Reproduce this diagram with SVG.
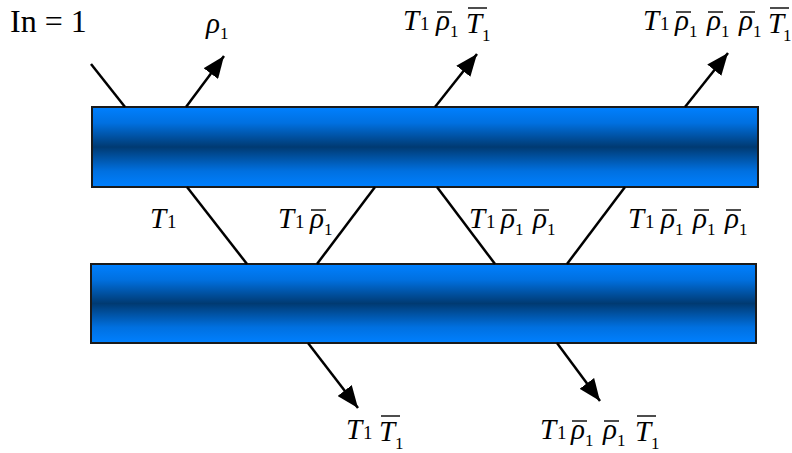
<svg xmlns="http://www.w3.org/2000/svg" width="792" height="453" viewBox="0 0 792 453">
<style>
text{font-family:"Liberation Serif","Times New Roman",serif;fill:#000}
.i{font-style:italic;font-size:29px}
.n{font-style:normal;font-size:19px}
.m{font-style:normal;font-size:17px}
.bar{stroke:#000;stroke-width:1.4}
.slab{fill:url(#g);stroke:#1a1a1a;stroke-width:2}
.ray{stroke:#000;stroke-width:2.5;fill:none}
.arr{marker-end:url(#ah)}
</style>
<defs>
<linearGradient id="g" x1="0" y1="0" x2="0" y2="1">
<stop offset="0" stop-color="#0080ff"/>
<stop offset="0.2" stop-color="#0070e0"/>
<stop offset="0.5" stop-color="#003a72"/>
<stop offset="0.8" stop-color="#0070e0"/>
<stop offset="1" stop-color="#0080ff"/>
</linearGradient>
<marker id="ah" markerUnits="userSpaceOnUse" markerWidth="22" markerHeight="18" refX="22" refY="9" orient="auto" viewBox="0 0 22 18">
<path d="M0,0 L22,9 L0,18 z" fill="#000"/>
</marker>
</defs>

<g id="slab-top"><rect class="slab" x="92" y="107" width="666" height="80"/></g>
<g id="slab-bottom"><rect class="slab" x="91" y="264" width="665" height="79"/></g>

<g id="connectors">
<line class="ray" x1="91" y1="64" x2="125" y2="107"/>
<line class="ray arr" x1="186" y1="107" x2="224" y2="56"/>
<line class="ray arr" x1="435" y1="107" x2="477" y2="54"/>
<line class="ray arr" x1="685" y1="107" x2="728" y2="53"/>
<line class="ray" x1="187" y1="187" x2="247" y2="264"/>
<line class="ray" x1="375" y1="187" x2="317" y2="264"/>
<line class="ray" x1="437" y1="187" x2="495" y2="264"/>
<line class="ray" x1="625" y1="187" x2="567" y2="264"/>
<line class="ray arr" x1="308" y1="343" x2="358" y2="408"/>
<line class="ray arr" x1="557" y1="343" x2="600" y2="401"/>
</g>

<g id="label-in"><text x="10" y="32" style="font-size:32px">In = 1</text></g>

<g id="label-rho"><text><tspan class="i" x="206" y="33">ρ</tspan><tspan class="m" x="220" y="39">1</tspan></text></g>

<g id="label-top2">
<text><tspan class="i" x="403" y="30">T</tspan><tspan class="n" x="420" y="30">1</tspan><tspan class="i" x="436" y="30">ρ</tspan><tspan class="m" x="450" y="37">1</tspan><tspan class="i" x="466" y="33">T</tspan><tspan class="m" x="482" y="41">1</tspan></text>
<line class="bar" x1="437" y1="12" x2="452" y2="12"/>
<line class="bar" x1="468" y1="8" x2="487" y2="8"/>
</g>

<g id="label-top3">
<text><tspan class="i" x="643" y="30">T</tspan><tspan class="n" x="660" y="30">1</tspan><tspan class="i" x="675" y="30">ρ</tspan><tspan class="m" x="689" y="37">1</tspan><tspan class="i" x="707" y="30">ρ</tspan><tspan class="m" x="721" y="37">1</tspan><tspan class="i" x="739" y="30">ρ</tspan><tspan class="m" x="753" y="37">1</tspan><tspan class="i" x="768" y="33">T</tspan><tspan class="m" x="783" y="41">1</tspan></text>
<line class="bar" x1="676" y1="12" x2="691" y2="12"/>
<line class="bar" x1="708" y1="12" x2="723" y2="12"/>
<line class="bar" x1="740" y1="12" x2="755" y2="12"/>
<line class="bar" x1="770" y1="8" x2="789" y2="8"/>
</g>

<g id="label-gap1"><text><tspan class="i" x="150" y="228">T</tspan><tspan class="n" x="167" y="228">1</tspan></text></g>

<g id="label-gap2">
<text><tspan class="i" x="278" y="228">T</tspan><tspan class="n" x="295" y="228">1</tspan><tspan class="i" x="310" y="228">ρ</tspan><tspan class="m" x="324" y="235">1</tspan></text>
<line class="bar" x1="311" y1="210" x2="326" y2="210"/>
</g>

<g id="label-gap3">
<text><tspan class="i" x="469" y="228">T</tspan><tspan class="n" x="486" y="228">1</tspan><tspan class="i" x="501" y="228">ρ</tspan><tspan class="m" x="515" y="235">1</tspan><tspan class="i" x="533" y="228">ρ</tspan><tspan class="m" x="547" y="235">1</tspan></text>
<line class="bar" x1="502" y1="210" x2="517" y2="210"/>
<line class="bar" x1="534" y1="210" x2="549" y2="210"/>
</g>

<g id="label-gap4">
<text><tspan class="i" x="628" y="228">T</tspan><tspan class="n" x="645" y="228">1</tspan><tspan class="i" x="661" y="228">ρ</tspan><tspan class="m" x="675" y="235">1</tspan><tspan class="i" x="693" y="228">ρ</tspan><tspan class="m" x="707" y="235">1</tspan><tspan class="i" x="725" y="228">ρ</tspan><tspan class="m" x="739" y="235">1</tspan></text>
<line class="bar" x1="662" y1="210" x2="677" y2="210"/>
<line class="bar" x1="694" y1="210" x2="709" y2="210"/>
<line class="bar" x1="726" y1="210" x2="741" y2="210"/>
</g>

<g id="label-bot1">
<text><tspan class="i" x="346" y="439">T</tspan><tspan class="n" x="363" y="439">1</tspan><tspan class="i" x="379" y="441">T</tspan><tspan class="m" x="395" y="449">1</tspan></text>
<line class="bar" x1="381" y1="416" x2="400" y2="416"/>
</g>

<g id="label-bot2">
<text><tspan class="i" x="540" y="439">T</tspan><tspan class="n" x="557" y="439">1</tspan><tspan class="i" x="571" y="439">ρ</tspan><tspan class="m" x="585" y="446">1</tspan><tspan class="i" x="603" y="439">ρ</tspan><tspan class="m" x="617" y="446">1</tspan><tspan class="i" x="635" y="441">T</tspan><tspan class="m" x="651" y="449">1</tspan></text>
<line class="bar" x1="572" y1="421" x2="587" y2="421"/>
<line class="bar" x1="604" y1="421" x2="619" y2="421"/>
<line class="bar" x1="637" y1="416" x2="656" y2="416"/>
</g>
</svg>
